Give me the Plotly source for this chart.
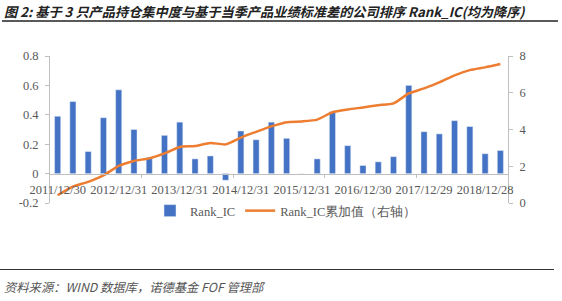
import plotly.graph_objects as go

# ---- data ----
quarters = [
    "2011/12/30", "2012/03/30", "2012/06/29", "2012/09/28",
    "2012/12/31", "2013/03/29", "2013/06/28", "2013/09/30",
    "2013/12/31", "2014/03/31", "2014/06/30", "2014/09/30",
    "2014/12/31", "2015/03/31", "2015/06/30", "2015/09/30",
    "2015/12/31", "2016/03/31", "2016/06/30", "2016/09/30",
    "2016/12/30", "2017/03/31", "2017/06/30", "2017/09/29",
    "2017/12/29", "2018/03/30", "2018/06/29", "2018/09/28",
    "2018/12/28", "2019/03/29",
]
rank_ic = [
    0.39, 0.49, 0.15, 0.38, 0.57, 0.30, 0.11, 0.26,
    0.35, 0.10, 0.12, -0.045, 0.29, 0.23, 0.35, 0.24,
    0.0, 0.10, 0.42, 0.19, 0.055, 0.08, 0.115, 0.60,
    0.285, 0.27, 0.36, 0.32, 0.135, 0.157,
]
rank_ic_cum = [
    0.42, 0.89, 1.15, 1.50, 2.02, 2.29, 2.43, 2.70,
    3.05, 3.10, 3.27, 3.19, 3.56, 3.87, 4.17, 4.40,
    4.44, 4.54, 4.94, 5.09, 5.20, 5.32, 5.42, 5.96,
    6.24, 6.56, 6.95, 7.23, 7.38, 7.56,
]
label_every = 4
left_ticks = [-0.2, 0, 0.2, 0.4, 0.6, 0.8]
left_ticktext = ["-0.2", "0", "0.2", "0.4", "0.6", "0.8"]
right_ticks = [0, 2, 4, 6, 8]
boundary_ticks = [5.5, 11.5, 17.5, 23.5]

title_text = "图 2: 基于 3 只产品持仓集中度与基于当季产品业绩标准差的公司排序 Rank_IC(均为降序)"
source_text = "资料来源：WIND 数据库，诺德基金 FOF 管理部"

# ---- layout constants ----
W, H = 562, 301
L, R, T, B = 50, 54, 56, 98
plot_h = H - T - B
plot_w = W - L - R

def py(px):  # pixel y from top -> paper y
    return (H - B - px) / plot_h

def pxx(px):
    return (px - L) / plot_w

serif = "Liberation Serif"
tick_color = "#595959"
blue = "#4472C4"
orange = "#ED7D31"

xs = list(range(len(quarters)))

fig = go.Figure()
fig.add_trace(go.Bar(
    x=xs, y=rank_ic, name="Rank_IC", marker_color=blue,
    yaxis="y", width=0.4,
))
fig.add_trace(go.Scatter(
    x=xs, y=rank_ic_cum, name="Rank_IC累加值（右轴）", mode="lines",
    line=dict(color=orange, width=2.5, shape="spline", smoothing=0.6),
    yaxis="y2",
))

zero_pos = (0 - left_ticks[0]) / (left_ticks[-1] - left_ticks[0])

fig.update_layout(
    width=W, height=H,
    margin=dict(l=L, r=R, t=T, b=B, pad=0),
    paper_bgcolor="white", plot_bgcolor="white",
    font=dict(family=serif, size=12, color=tick_color),
    showlegend=True,
    legend=dict(
        orientation="h", x=pxx(150), y=py(211), xanchor="left", yanchor="middle",
        font=dict(family=serif, size=12.5, color=tick_color),
        itemwidth=30, tracegroupgap=0, bgcolor="rgba(0,0,0,0)",
    ),
    xaxis=dict(
        range=[-0.5, len(quarters) - 0.5],
        tickmode="array",
        tickvals=xs[::label_every],
        ticktext=quarters[::label_every],
        ticks="", showgrid=False, zeroline=False,
        showline=True, linecolor="#BFBFBF", linewidth=1,
        anchor="free", position=zero_pos,
        tickfont=dict(family=serif, size=12.5, color=tick_color),
        ticklabelstandoff=4,
        minor=dict(tickmode="array", tickvals=boundary_ticks, ticks="outside",
                   ticklen=3, tickcolor="#BFBFBF", showgrid=False),
    ),
    yaxis=dict(
        range=[left_ticks[0], left_ticks[-1]],
        tickmode="array", tickvals=left_ticks, ticktext=left_ticktext,
        showgrid=False, zeroline=False,
        showline=True, linecolor="#BFBFBF", linewidth=1,
        ticks="outside", ticklen=4, tickcolor="#BFBFBF",
        tickfont=dict(family=serif, size=12.5, color=tick_color),
        ticklabelstandoff=4,
    ),
    yaxis2=dict(
        range=[right_ticks[0], right_ticks[-1]],
        tickmode="array", tickvals=right_ticks,
        overlaying="y", side="right",
        showgrid=False, zeroline=False,
        showline=True, linecolor="#BFBFBF", linewidth=1,
        ticks="outside", ticklen=4, tickcolor="#BFBFBF",
        tickfont=dict(family=serif, size=12.5, color=tick_color),
        ticklabelstandoff=4,
    ),
    bargap=0.6,
)

# title
fig.add_annotation(
    text="<b>" + title_text + "</b>", xref="paper", yref="paper",
    x=pxx(2), y=py(11), xanchor="left", yanchor="middle", showarrow=False,
    font=dict(family="Noto Sans CJK SC", size=13.2, color="#222222", style="italic"),
)
# underline of title
fig.add_shape(type="line", xref="paper", yref="paper",
              x0=pxx(2), x1=pxx(558), y0=py(21), y1=py(21),
              line=dict(color="#222222", width=1.5))
# bottom separator line
fig.add_shape(type="line", xref="paper", yref="paper",
              x0=pxx(0), x1=pxx(554), y0=py(269.5), y1=py(269.5),
              line=dict(color="#333333", width=1))
# source
fig.add_annotation(
    text=source_text, xref="paper", yref="paper",
    x=pxx(2), y=py(287), xanchor="left", yanchor="middle", showarrow=False,
    font=dict(family="Noto Sans CJK SC", size=12.3, color="#555555", style="italic"),
)

fig.write_html("out.html")
